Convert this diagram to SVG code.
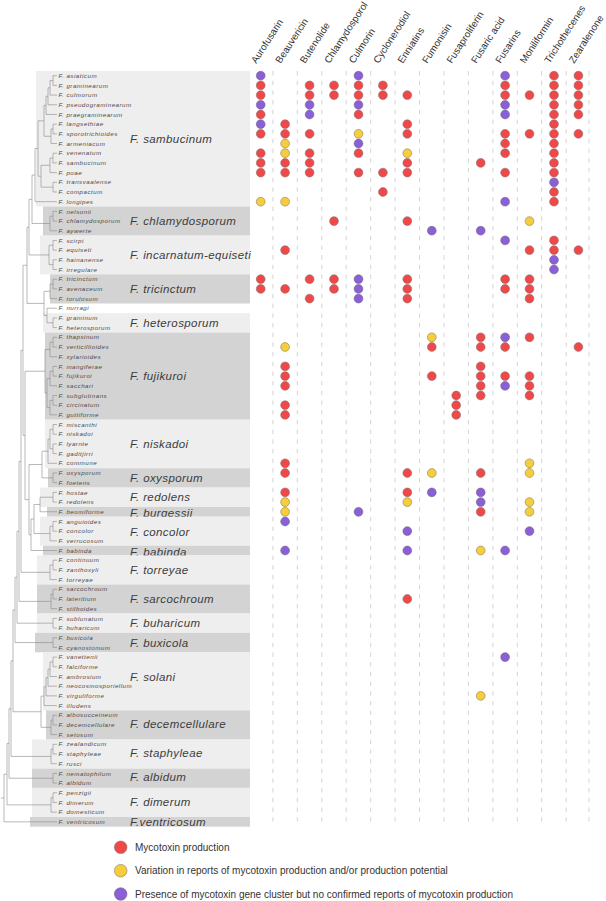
<svg xmlns="http://www.w3.org/2000/svg" width="606" height="901" viewBox="0 0 606 901">
<style>
.lt{fill:#eeeeee}.dk{fill:#d3d3d3}
.sp{font-family:"Liberation Sans",Arial,sans-serif;font-style:italic;font-size:6.2px;letter-spacing:0.5px;fill:#4a4a4a}
.cl{font-family:"Liberation Sans",Arial,sans-serif;font-style:italic;font-size:11.5px;letter-spacing:0.4px;fill:#3c3c3c}
.hd{font-family:"Liberation Sans",Arial,sans-serif;font-size:9.8px;fill:#333}
.lg{font-family:"Liberation Sans",Arial,sans-serif;font-size:10px;fill:#333}
.br{fill:none;stroke:#8a8a8a;stroke-width:0.6;vector-effect:non-scaling-stroke}
.dl{stroke:#d0d0d0;stroke-width:0.9;stroke-dasharray:4.5 5.19}
.r{fill:#f04848;stroke:#8c7070;stroke-width:0.6}
.y{fill:#f6cd3c;stroke:#8c8060;stroke-width:0.6}
.p{fill:#8b5fd8;stroke:#706880;stroke-width:0.6}
</style>
<rect width="606" height="901" fill="#fff"/>
<g id="clade-sambucinum">
<rect class="lt" x="36" y="70.9" width="214" height="135.6"/>
<text class="cl" x="130" y="143">F. sambucinum</text>
<text class="sp" x="58.5" y="77.8">F. asiaticum</text>
<text class="sp" x="58.5" y="87.5">F. graminearum</text>
<text class="sp" x="58.5" y="97.2">F. culmorum</text>
<text class="sp" x="58.5" y="106.9">F. pseudograminearum</text>
<text class="sp" x="58.5" y="116.6">F. praegraminearum</text>
<text class="sp" x="58.5" y="126.3">F. langsethiae</text>
<text class="sp" x="58.5" y="135.9">F. sporotrichioides</text>
<text class="sp" x="58.5" y="145.6">F. armeniacum</text>
<text class="sp" x="58.5" y="155.3">F. venenatum</text>
<text class="sp" x="58.5" y="165">F. sambucinum</text>
<text class="sp" x="58.5" y="174.7">F. poae</text>
<text class="sp" x="58.5" y="184.4">F. transvaalense</text>
<text class="sp" x="58.5" y="194.1">F. compactum</text>
<text class="sp" x="58.5" y="203.8">F. longipes</text>
</g>
<g id="clade-chlamydosporum">
<rect class="dk" x="43" y="206.5" width="207" height="29.1"/>
<text class="cl" x="130" y="225">F. chlamydosporum</text>
<text class="sp" x="58.5" y="213.5">F. nelsonii</text>
<text class="sp" x="58.5" y="223.2">F. chlamydosporum</text>
<text class="sp" x="58.5" y="232.8">F. aywerte</text>
</g>
<g id="clade-incarnatum-equiseti">
<rect class="lt" x="40" y="235.6" width="210" height="38.8"/>
<text class="cl" x="130" y="259">F. incarnatum-equiseti</text>
<text class="sp" x="58.5" y="242.5">F. scirpi</text>
<text class="sp" x="58.5" y="252.2">F. equiseti</text>
<text class="sp" x="58.5" y="261.9">F. hainanense</text>
<text class="sp" x="58.5" y="271.6">F. irregulare</text>
</g>
<g id="clade-tricinctum">
<rect class="dk" x="50" y="274.4" width="200" height="29.1"/>
<text class="cl" x="130" y="293">F. tricinctum</text>
<text class="sp" x="58.5" y="281.3">F. tricinctum</text>
<text class="sp" x="58.5" y="291">F. avenaceum</text>
<text class="sp" x="58.5" y="300.7">F. torulosum</text>
</g>
<g id="taxon-nurragi">
<text class="sp" x="58.5" y="310.4">F. nurragi</text>
</g>
<g id="clade-heterosporum">
<rect class="lt" x="43" y="313.2" width="207" height="19.3"/>
<text class="cl" x="130" y="327">F. heterosporum</text>
<text class="sp" x="58.5" y="320.1">F. graminum</text>
<text class="sp" x="58.5" y="329.7">F. heterosporum</text>
</g>
<g id="clade-fujikuroi">
<rect class="dk" x="45" y="332.5" width="205" height="87.2"/>
<text class="cl" x="130" y="380">F. fujikuroi</text>
<text class="sp" x="58.5" y="339.4">F. thapsinum</text>
<text class="sp" x="58.5" y="349.1">F. verticillioides</text>
<text class="sp" x="58.5" y="358.8">F. xylarioides</text>
<text class="sp" x="58.5" y="368.5">F. mangiferae</text>
<text class="sp" x="58.5" y="378.2">F. fujikuroi</text>
<text class="sp" x="58.5" y="387.9">F. sacchari</text>
<text class="sp" x="58.5" y="397.6">F. subglutinans</text>
<text class="sp" x="58.5" y="407.3">F. circinatum</text>
<text class="sp" x="58.5" y="417">F. guttiforme</text>
</g>
<g id="clade-niskadoi">
<rect class="lt" x="45" y="419.7" width="205" height="48.5"/>
<text class="cl" x="130" y="448">F. niskadoi</text>
<text class="sp" x="58.5" y="426.6">F. miscanthi</text>
<text class="sp" x="58.5" y="436.3">F. niskadoi</text>
<text class="sp" x="58.5" y="446">F. lyarnte</text>
<text class="sp" x="58.5" y="455.7">F. gaditjirri</text>
<text class="sp" x="58.5" y="465.4">F. commune</text>
</g>
<g id="clade-oxysporum">
<rect class="dk" x="48" y="468.2" width="202" height="19.4"/>
<text class="cl" x="130" y="481.5">F. oxysporum</text>
<text class="sp" x="58.5" y="475.1">F. oxysporum</text>
<text class="sp" x="58.5" y="484.8">F. foetens</text>
</g>
<g id="clade-redolens">
<rect class="lt" x="40" y="487.6" width="210" height="19.4"/>
<text class="cl" x="130" y="501">F. redolens</text>
<text class="sp" x="58.5" y="494.5">F. hostae</text>
<text class="sp" x="58.5" y="504.2">F. redolens</text>
</g>
<g id="clade-burgessii">
<rect class="dk" x="47" y="507" width="203" height="9.7"/>
<text class="cl" x="130" y="517">F. burgessii</text>
<text class="sp" x="58.5" y="513.9">F. beomiforme</text>
</g>
<g id="clade-concolor">
<rect class="lt" x="40" y="516.7" width="210" height="29"/>
<text class="cl" x="130" y="535.5">F. concolor</text>
<text class="sp" x="58.5" y="523.6">F. anguioides</text>
<text class="sp" x="58.5" y="533.2">F. concolor</text>
<text class="sp" x="58.5" y="542.9">F. verrucosum</text>
</g>
<g id="clade-babinda">
<rect class="dk" x="43" y="545.7" width="207" height="9.7"/>
<text class="cl" x="130" y="556">F. babinda</text>
<text class="sp" x="58.5" y="552.6">F. babinda</text>
</g>
<g id="clade-torreyae">
<rect class="lt" x="37" y="555.4" width="213" height="29.1"/>
<text class="cl" x="130" y="574">F. torreyae</text>
<text class="sp" x="58.5" y="562.3">F. continuum</text>
<text class="sp" x="58.5" y="572">F. zanthoxyli</text>
<text class="sp" x="58.5" y="581.7">F. torreyae</text>
</g>
<g id="clade-sarcochroum">
<rect class="dk" x="37" y="584.5" width="213" height="29"/>
<text class="cl" x="130" y="602.5">F. sarcochroum</text>
<text class="sp" x="58.5" y="591.4">F. sarcochroum</text>
<text class="sp" x="58.5" y="601.1">F. lateritium</text>
<text class="sp" x="58.5" y="610.8">F. stilboides</text>
</g>
<g id="clade-buharicum">
<rect class="lt" x="37" y="613.5" width="213" height="19.4"/>
<text class="cl" x="130" y="627.3">F. buharicum</text>
<text class="sp" x="58.5" y="620.5">F. sublunatum</text>
<text class="sp" x="58.5" y="630.1">F. buharicum</text>
</g>
<g id="clade-buxicola">
<rect class="dk" x="35" y="632.9" width="215" height="19.4"/>
<text class="cl" x="130" y="646.7">F. buxicola</text>
<text class="sp" x="58.5" y="639.8">F. buxicola</text>
<text class="sp" x="58.5" y="649.5">F. cyanostomum</text>
</g>
<g id="clade-solani">
<rect class="lt" x="43" y="652.3" width="207" height="58.1"/>
<text class="cl" x="130" y="680.7">F. solani</text>
<text class="sp" x="58.5" y="659.2">F. vanettenii</text>
<text class="sp" x="58.5" y="668.9">F. falciforme</text>
<text class="sp" x="58.5" y="678.6">F. ambrosium</text>
<text class="sp" x="58.5" y="688.3">F. neocosmosporiellum</text>
<text class="sp" x="58.5" y="698">F. virguliforme</text>
<text class="sp" x="58.5" y="707.7">F. illudens</text>
</g>
<g id="clade-decemcellulare">
<rect class="dk" x="46" y="710.4" width="204" height="29.1"/>
<text class="cl" x="130" y="728.3">F. decemcellulare</text>
<text class="sp" x="58.5" y="717.4">F. albosucceineum</text>
<text class="sp" x="58.5" y="727">F. decemcellulare</text>
<text class="sp" x="58.5" y="736.7">F. setosum</text>
</g>
<g id="clade-staphyleae">
<rect class="lt" x="32" y="739.5" width="218" height="29.1"/>
<text class="cl" x="130" y="757.3">F. staphyleae</text>
<text class="sp" x="58.5" y="746.4">F. zealandicum</text>
<text class="sp" x="58.5" y="756.1">F. staphyleae</text>
<text class="sp" x="58.5" y="765.8">F. rusci</text>
</g>
<g id="clade-albidum">
<rect class="dk" x="32" y="768.6" width="218" height="19.3"/>
<text class="cl" x="130" y="781.3">F. albidum</text>
<text class="sp" x="58.5" y="775.5">F. nematophilum</text>
<text class="sp" x="58.5" y="785.2">F. albidum</text>
</g>
<g id="clade-dimerum">
<rect class="lt" x="32" y="787.9" width="218" height="29.1"/>
<text class="cl" x="130" y="805.7">F. dimerum</text>
<text class="sp" x="58.5" y="794.9">F. penzigii</text>
<text class="sp" x="58.5" y="804.6">F. dimerum</text>
<text class="sp" x="58.5" y="814.3">F. domesticum</text>
</g>
<g id="clade-ventricosum">
<rect class="dk" x="30" y="817" width="220" height="9.7"/>
<text class="cl" x="130" y="826">F.ventricosum</text>
<text class="sp" x="58.5" y="823.9">F. ventricosum</text>
</g>
<g id="connectors" transform="matrix(1 0 0 9.69 0 66.01)">
<path class="br" d="M57 1H53V2H57M53 1.5H50V3H57M50 2.25H48V4H57M48 3.125H46V5H57M57 6H53V7H57M53 6.5H51V8H57M46 4.0625H44V7.25H51M57 9H53V10H57M53 9.5H50V11H57M57 12H53V13H57M50 10.25H41V12.5H53M44 5.656H38V11.375H41M38 8.516H35V14H57"/>
<path class="br" d="M57 15H53V16H57M53 15.5H50V17H57M35 11.258H32V16.25H50M57 18H53V19H57M57 20H53V21H57M53 18.5H49V20.5H53M32 13.754H29V19.5H49"/>
<path class="br" d="M57 22H53V23H57M53 22.5H50V24H57M57 26H53V27H57M57 25H47V26.5H53M50 23.25H44V25.75H47M29 16.627H27V24.5H44"/>
<path class="br" d="M57 28H53V29H57M53 28.5H50V30H57M57 31H53V32H57M53 31.5H50V33H57M57 34H53V35H57M53 34.5H50V36H57M50 32.25H47V35.25H50M50 29.25H45V33.75H47"/>
<path class="br" d="M57 37H53V38H57M57 39H53V40H57M53 37.5H50V39.5H53M50 38.5H48V41H57M57 42H53V43H57M48 39.75H42V42.5H53"/>
<path class="br" d="M57 44H53V45H57M53 44.5H40V46H57M57 47H53V48H57M53 47.5H50V49H57M40 45.25H34V48.25H50M34 46.75H31V50H57M42 41.125H29V48.375H31M45 31.5H25V44.75H29M27 20.564H23V38.125H25"/>
<path class="br" d="M57 51H53V52H57M53 51.5H50V53H57M23 29.345H21V52.25H50M57 54H53V55H57M53 54.5H51V56H57M21 40.797H19V55.25H51M57 57H53V58H57M19 48.02H17V57.5H53M57 59H53V60H57M17 52.76H15V59.5H53"/>
<path class="br" d="M57 61H53V62H57M53 61.5H50V63H57M50 62.25H48V64H57M48 63.125H46V65H57M46 64.06H44V66H57M57 67H53V68H57M53 67.5H51V69H57M44 65.03H41V68.25H51M15 56.13H13V66.64H41"/>
<path class="br" d="M57 70H53V71H57M53 70.5H51V72H57M13 61.385H11V71.25H51M57 73H53V74H57M11 66.32H9V73.5H53M57 75H53V76H57M53 75.5H51V77H57M9 69.91H7V76.25H51M7 73.08H4V78H57M1 75.54H4"/>
</g>
<g id="grid">
<line class="dl" x1="272.9" y1="71" x2="272.9" y2="827"/>
<line class="dl" x1="297.3" y1="71" x2="297.3" y2="827"/>
<line class="dl" x1="321.8" y1="71" x2="321.8" y2="827"/>
<line class="dl" x1="346.2" y1="71" x2="346.2" y2="827"/>
<line class="dl" x1="370.7" y1="71" x2="370.7" y2="827"/>
<line class="dl" x1="395.1" y1="71" x2="395.1" y2="827"/>
<line class="dl" x1="419.5" y1="71" x2="419.5" y2="827"/>
<line class="dl" x1="444" y1="71" x2="444" y2="827"/>
<line class="dl" x1="468.4" y1="71" x2="468.4" y2="827"/>
<line class="dl" x1="492.9" y1="71" x2="492.9" y2="827"/>
<line class="dl" x1="517.3" y1="71" x2="517.3" y2="827"/>
<line class="dl" x1="541.7" y1="71" x2="541.7" y2="827"/>
<line class="dl" x1="566.2" y1="71" x2="566.2" y2="827"/>
<line class="dl" x1="589" y1="71" x2="589" y2="827"/>
</g>
<g id="header">
<text class="hd" transform="translate(256.2,64) rotate(-57)">Aurofusarin</text>
<text class="hd" transform="translate(280.6,64) rotate(-57)">Beauvericin</text>
<text class="hd" transform="translate(305.1,64) rotate(-57)">Butenolide</text>
<text class="hd" transform="translate(329.5,64) rotate(-57)">Chlamydosporol</text>
<text class="hd" transform="translate(354,64) rotate(-57)">Culmorin</text>
<text class="hd" transform="translate(378.4,64) rotate(-57)">Cyclonerodiol</text>
<text class="hd" transform="translate(402.8,64) rotate(-57)">Enniatins</text>
<text class="hd" transform="translate(427.3,64) rotate(-57)">Fumonisin</text>
<text class="hd" transform="translate(451.7,64) rotate(-57)">Fusaproliferin</text>
<text class="hd" transform="translate(476.2,64) rotate(-57)">Fusaric acid</text>
<text class="hd" transform="translate(500.6,64) rotate(-57)">Fusarins</text>
<text class="hd" transform="translate(525,64) rotate(-57)">Moniliformin</text>
<text class="hd" transform="translate(549.5,64) rotate(-57)">Trichothecenes</text>
<text class="hd" transform="translate(573.9,64) rotate(-57)">Zearalenone</text>
</g>
<g id="dots">
<circle class="p" cx="260.7" cy="75.7" r="4.4"/><circle class="p" cx="358.5" cy="75.7" r="4.4"/><circle class="p" cx="505.1" cy="75.7" r="4.4"/><circle class="r" cx="554" cy="75.7" r="4.4"/><circle class="r" cx="578.4" cy="75.7" r="4.4"/>
<circle class="r" cx="260.7" cy="85.4" r="4.4"/><circle class="r" cx="309.6" cy="85.4" r="4.4"/><circle class="r" cx="334" cy="85.4" r="4.4"/><circle class="r" cx="358.5" cy="85.4" r="4.4"/><circle class="r" cx="382.9" cy="85.4" r="4.4"/><circle class="r" cx="505.1" cy="85.4" r="4.4"/><circle class="r" cx="554" cy="85.4" r="4.4"/><circle class="r" cx="578.4" cy="85.4" r="4.4"/>
<circle class="r" cx="260.7" cy="95.1" r="4.4"/><circle class="r" cx="309.6" cy="95.1" r="4.4"/><circle class="r" cx="334" cy="95.1" r="4.4"/><circle class="r" cx="358.5" cy="95.1" r="4.4"/><circle class="r" cx="382.9" cy="95.1" r="4.4"/><circle class="r" cx="407.3" cy="95.1" r="4.4"/><circle class="r" cx="505.1" cy="95.1" r="4.4"/><circle class="r" cx="529.5" cy="95.1" r="4.4"/><circle class="r" cx="554" cy="95.1" r="4.4"/><circle class="r" cx="578.4" cy="95.1" r="4.4"/>
<circle class="p" cx="260.7" cy="104.8" r="4.4"/><circle class="p" cx="309.6" cy="104.8" r="4.4"/><circle class="p" cx="358.5" cy="104.8" r="4.4"/><circle class="p" cx="505.1" cy="104.8" r="4.4"/><circle class="r" cx="554" cy="104.8" r="4.4"/><circle class="r" cx="578.4" cy="104.8" r="4.4"/>
<circle class="r" cx="260.7" cy="114.5" r="4.4"/><circle class="p" cx="309.6" cy="114.5" r="4.4"/><circle class="r" cx="358.5" cy="114.5" r="4.4"/><circle class="p" cx="505.1" cy="114.5" r="4.4"/><circle class="r" cx="554" cy="114.5" r="4.4"/><circle class="r" cx="578.4" cy="114.5" r="4.4"/>
<circle class="p" cx="260.7" cy="124.2" r="4.4"/><circle class="r" cx="285.1" cy="124.2" r="4.4"/><circle class="r" cx="407.3" cy="124.2" r="4.4"/><circle class="r" cx="554" cy="124.2" r="4.4"/>
<circle class="r" cx="260.7" cy="133.8" r="4.4"/><circle class="r" cx="285.1" cy="133.8" r="4.4"/><circle class="r" cx="309.6" cy="133.8" r="4.4"/><circle class="y" cx="358.5" cy="133.8" r="4.4"/><circle class="r" cx="407.3" cy="133.8" r="4.4"/><circle class="r" cx="505.1" cy="133.8" r="4.4"/><circle class="r" cx="529.5" cy="133.8" r="4.4"/><circle class="r" cx="554" cy="133.8" r="4.4"/><circle class="r" cx="578.4" cy="133.8" r="4.4"/>
<circle class="y" cx="285.1" cy="143.5" r="4.4"/><circle class="p" cx="358.5" cy="143.5" r="4.4"/><circle class="r" cx="505.1" cy="143.5" r="4.4"/><circle class="r" cx="554" cy="143.5" r="4.4"/>
<circle class="r" cx="260.7" cy="153.2" r="4.4"/><circle class="y" cx="285.1" cy="153.2" r="4.4"/><circle class="r" cx="309.6" cy="153.2" r="4.4"/><circle class="r" cx="358.5" cy="153.2" r="4.4"/><circle class="y" cx="407.3" cy="153.2" r="4.4"/><circle class="r" cx="505.1" cy="153.2" r="4.4"/><circle class="r" cx="554" cy="153.2" r="4.4"/>
<circle class="r" cx="260.7" cy="162.9" r="4.4"/><circle class="r" cx="285.1" cy="162.9" r="4.4"/><circle class="r" cx="309.6" cy="162.9" r="4.4"/><circle class="r" cx="407.3" cy="162.9" r="4.4"/><circle class="r" cx="480.7" cy="162.9" r="4.4"/><circle class="r" cx="554" cy="162.9" r="4.4"/>
<circle class="r" cx="260.7" cy="172.6" r="4.4"/><circle class="r" cx="285.1" cy="172.6" r="4.4"/><circle class="r" cx="309.6" cy="172.6" r="4.4"/><circle class="r" cx="358.5" cy="172.6" r="4.4"/><circle class="r" cx="382.9" cy="172.6" r="4.4"/><circle class="r" cx="407.3" cy="172.6" r="4.4"/><circle class="r" cx="505.1" cy="172.6" r="4.4"/><circle class="r" cx="554" cy="172.6" r="4.4"/>
<circle class="p" cx="554" cy="182.3" r="4.4"/>
<circle class="r" cx="382.9" cy="192" r="4.4"/><circle class="r" cx="554" cy="192" r="4.4"/>
<circle class="y" cx="260.7" cy="201.7" r="4.4"/><circle class="y" cx="285.1" cy="201.7" r="4.4"/><circle class="p" cx="505.1" cy="201.7" r="4.4"/><circle class="r" cx="554" cy="201.7" r="4.4"/>
<circle class="r" cx="334" cy="221.1" r="4.4"/><circle class="r" cx="407.3" cy="221.1" r="4.4"/><circle class="y" cx="529.5" cy="221.1" r="4.4"/>
<circle class="p" cx="431.8" cy="230.7" r="4.4"/><circle class="p" cx="480.7" cy="230.7" r="4.4"/>
<circle class="p" cx="505.1" cy="240.4" r="4.4"/><circle class="r" cx="554" cy="240.4" r="4.4"/>
<circle class="r" cx="285.1" cy="250.1" r="4.4"/><circle class="r" cx="529.5" cy="250.1" r="4.4"/><circle class="r" cx="554" cy="250.1" r="4.4"/><circle class="r" cx="578.4" cy="250.1" r="4.4"/>
<circle class="p" cx="554" cy="259.8" r="4.4"/>
<circle class="p" cx="554" cy="269.5" r="4.4"/>
<circle class="r" cx="260.7" cy="279.2" r="4.4"/><circle class="r" cx="309.6" cy="279.2" r="4.4"/><circle class="r" cx="334" cy="279.2" r="4.4"/><circle class="p" cx="358.5" cy="279.2" r="4.4"/><circle class="r" cx="407.3" cy="279.2" r="4.4"/><circle class="r" cx="505.1" cy="279.2" r="4.4"/><circle class="r" cx="529.5" cy="279.2" r="4.4"/>
<circle class="r" cx="260.7" cy="288.9" r="4.4"/><circle class="r" cx="285.1" cy="288.9" r="4.4"/><circle class="r" cx="334" cy="288.9" r="4.4"/><circle class="p" cx="358.5" cy="288.9" r="4.4"/><circle class="r" cx="407.3" cy="288.9" r="4.4"/><circle class="r" cx="505.1" cy="288.9" r="4.4"/><circle class="r" cx="529.5" cy="288.9" r="4.4"/>
<circle class="r" cx="309.6" cy="298.6" r="4.4"/><circle class="p" cx="358.5" cy="298.6" r="4.4"/><circle class="r" cx="407.3" cy="298.6" r="4.4"/><circle class="r" cx="529.5" cy="298.6" r="4.4"/>
<circle class="y" cx="431.8" cy="337.3" r="4.4"/><circle class="r" cx="480.7" cy="337.3" r="4.4"/><circle class="p" cx="505.1" cy="337.3" r="4.4"/><circle class="r" cx="529.5" cy="337.3" r="4.4"/>
<circle class="y" cx="285.1" cy="347" r="4.4"/><circle class="r" cx="431.8" cy="347" r="4.4"/><circle class="r" cx="480.7" cy="347" r="4.4"/><circle class="r" cx="505.1" cy="347" r="4.4"/><circle class="r" cx="578.4" cy="347" r="4.4"/>
<circle class="r" cx="285.1" cy="366.4" r="4.4"/><circle class="r" cx="480.7" cy="366.4" r="4.4"/>
<circle class="r" cx="285.1" cy="376.1" r="4.4"/><circle class="r" cx="431.8" cy="376.1" r="4.4"/><circle class="r" cx="480.7" cy="376.1" r="4.4"/><circle class="r" cx="505.1" cy="376.1" r="4.4"/><circle class="r" cx="529.5" cy="376.1" r="4.4"/>
<circle class="r" cx="285.1" cy="385.8" r="4.4"/><circle class="r" cx="480.7" cy="385.8" r="4.4"/><circle class="p" cx="505.1" cy="385.8" r="4.4"/><circle class="r" cx="529.5" cy="385.8" r="4.4"/>
<circle class="r" cx="456.2" cy="395.5" r="4.4"/><circle class="r" cx="480.7" cy="395.5" r="4.4"/><circle class="r" cx="529.5" cy="395.5" r="4.4"/>
<circle class="r" cx="285.1" cy="405.2" r="4.4"/><circle class="r" cx="456.2" cy="405.2" r="4.4"/>
<circle class="r" cx="285.1" cy="414.9" r="4.4"/><circle class="r" cx="456.2" cy="414.9" r="4.4"/>
<circle class="r" cx="285.1" cy="463.3" r="4.4"/><circle class="y" cx="529.5" cy="463.3" r="4.4"/>
<circle class="r" cx="285.1" cy="473" r="4.4"/><circle class="r" cx="407.3" cy="473" r="4.4"/><circle class="y" cx="431.8" cy="473" r="4.4"/><circle class="r" cx="480.7" cy="473" r="4.4"/><circle class="y" cx="529.5" cy="473" r="4.4"/>
<circle class="r" cx="285.1" cy="492.4" r="4.4"/><circle class="r" cx="407.3" cy="492.4" r="4.4"/><circle class="p" cx="431.8" cy="492.4" r="4.4"/><circle class="p" cx="480.7" cy="492.4" r="4.4"/>
<circle class="y" cx="285.1" cy="502.1" r="4.4"/><circle class="y" cx="407.3" cy="502.1" r="4.4"/><circle class="p" cx="480.7" cy="502.1" r="4.4"/><circle class="y" cx="529.5" cy="502.1" r="4.4"/>
<circle class="y" cx="285.1" cy="511.8" r="4.4"/><circle class="p" cx="358.5" cy="511.8" r="4.4"/><circle class="r" cx="480.7" cy="511.8" r="4.4"/><circle class="y" cx="529.5" cy="511.8" r="4.4"/>
<circle class="p" cx="285.1" cy="521.5" r="4.4"/>
<circle class="p" cx="407.3" cy="531.1" r="4.4"/><circle class="p" cx="529.5" cy="531.1" r="4.4"/>
<circle class="p" cx="285.1" cy="550.5" r="4.4"/><circle class="p" cx="407.3" cy="550.5" r="4.4"/><circle class="y" cx="480.7" cy="550.5" r="4.4"/><circle class="p" cx="505.1" cy="550.5" r="4.4"/>
<circle class="r" cx="407.3" cy="599" r="4.4"/>
<circle class="p" cx="505.1" cy="657.1" r="4.4"/>
<circle class="y" cx="480.7" cy="695.9" r="4.4"/>
</g>
<g id="legend">
<circle class="r" cx="120.7" cy="847.3" r="6.3"/>
<text class="lg" x="135" y="850.8">Mycotoxin production</text>
<circle class="y" cx="120.7" cy="870.7" r="6.3"/>
<text class="lg" x="135" y="874.2">Variation in reports of mycotoxin production and/or production potential</text>
<circle class="p" cx="120.7" cy="894" r="6.3"/>
<text class="lg" x="135" y="897.5">Presence of mycotoxin gene cluster but no confirmed reports of mycotoxin production</text>
</g>
</svg>
